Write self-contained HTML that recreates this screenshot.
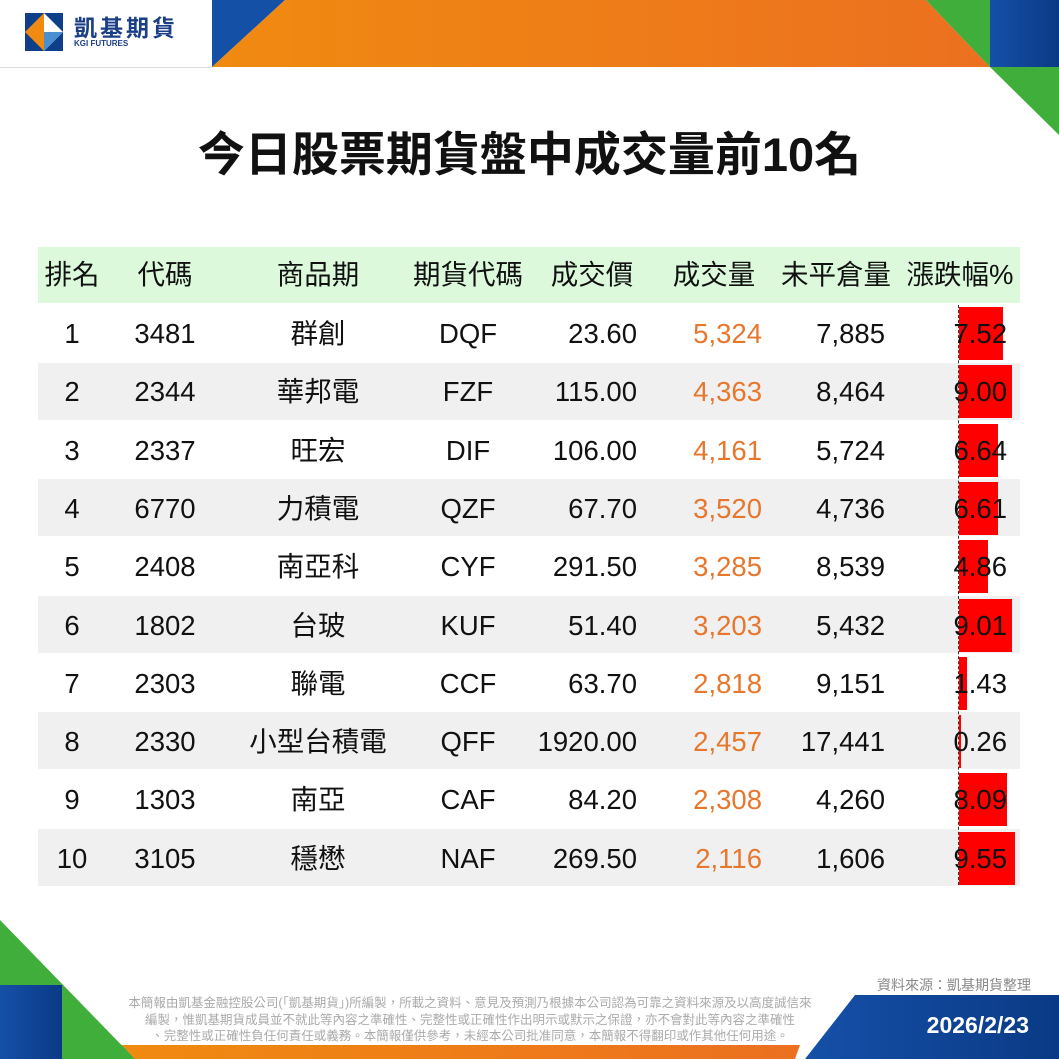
<!DOCTYPE html>
<html><head><meta charset="utf-8"><style>
body{margin:0;width:1059px;height:1059px;position:relative;overflow:hidden;background:#fff;font-family:"Liberation Sans","Noto Sans CJK TC",sans-serif;}
.a{position:absolute;}
.t{position:absolute;font-size:27.5px;color:#111;line-height:58px;white-space:nowrap;}
.c{transform:translateX(-50%);}
.r{transform:translateX(-100%);}
.o{color:#e8772e;}
</style></head><body>
<svg class="a" style="left:0;top:0" width="1059" height="1059">
<defs><linearGradient id="og" x1="0" x2="1"><stop offset="0" stop-color="#f08a10"/><stop offset="1" stop-color="#ec7020"/></linearGradient>
<linearGradient id="bg" x1="0" x2="1"><stop offset="0" stop-color="#1550a8"/><stop offset="1" stop-color="#0a3a85"/></linearGradient></defs>
<polygon points="212,0 285,0 212,67" fill="#1450a5"/>
<polygon points="285,0 926,0 990,67 212,67" fill="url(#og)"/>
<polygon points="926,0 990,0 990,67" fill="#3fae3a"/>
<rect x="990" y="0" width="69" height="67" fill="url(#bg)"/>
<polygon points="990,67 1059,67 1059,135" fill="#3fae3a"/>
<line x1="0" y1="67.5" x2="212" y2="67.5" stroke="#ddd" stroke-width="1"/>
<polygon points="25,13 63,13 63,51 25,51" fill="#0f3e8a"/>
<polygon points="25,32 44,13 44,51" fill="#f08a10"/>
<polygon points="44,13 63,32 44,51" fill="#fff"/>
<polygon points="44,32 63,32 44,51" fill="#4a90d0"/>
<polygon points="0,920 0,1059 135,1059" fill="#3fae3a"/>
<rect x="0" y="985" width="62" height="74" fill="url(#bg)"/>
<polygon points="62,1045 122,1045 135,1059 62,1059" fill="#3fae3a"/>
<polygon points="122,1045 800,1045 795,1059 135,1059" fill="url(#og)"/>
<polygon points="855,995 1059,995 1059,1059 805,1059" fill="url(#bg)"/>
</svg>
<div class="a" style="left:74px;top:9px;font-size:23px;color:#1a3f86;letter-spacing:3px;font-weight:bold">凱基期貨</div>
<div class="a" style="left:74px;top:39px;font-size:8px;color:#1a3f86;font-weight:bold">KGI FUTURES</div>
<div class="a" style="left:0;width:1059px;top:116px;text-align:center;font-size:47px;font-weight:bold;color:#111">今日股票期貨盤中成交量前10名</div>

<div class="a" style="left:38px;top:247px;width:982px;height:56px;background:#dcf9dc"></div>
<div class="a" style="left:38px;top:363px;width:982px;height:57px;background:#f0f0f0"></div>
<div class="a" style="left:38px;top:479px;width:982px;height:57px;background:#f0f0f0"></div>
<div class="a" style="left:38px;top:596px;width:982px;height:57px;background:#f0f0f0"></div>
<div class="a" style="left:38px;top:712px;width:982px;height:57px;background:#f0f0f0"></div>
<div class="a" style="left:38px;top:829px;width:982px;height:57px;background:#f0f0f0"></div>

<div class="t c" style="left:72px;top:246px">排名</div>
<div class="t c" style="left:165px;top:246px">代碼</div>
<div class="t c" style="left:318px;top:246px">商品期</div>
<div class="t c" style="left:468px;top:246px">期貨代碼</div>
<div class="t c" style="left:592px;top:246px">成交價</div>
<div class="t c" style="left:714px;top:246px">成交量</div>
<div class="t c" style="left:836px;top:246px">未平倉量</div>
<div class="t c" style="left:960px;top:246px">漲跌幅%</div>

<div class="a" style="left:958px;top:305px;width:0;height:580px;border-left:1px dashed #333"></div>

<div id="rows"></div>
<script>
var d=[["1","3481","群創","DQF","23.60","5,324","7,885","7.52"],["2","2344","華邦電","FZF","115.00","4,363","8,464","9.00"],["3","2337","旺宏","DIF","106.00","4,161","5,724","6.64"],["4","6770","力積電","QZF","67.70","3,520","4,736","6.61"],["5","2408","南亞科","CYF","291.50","3,285","8,539","4.86"],["6","1802","台玻","KUF","51.40","3,203","5,432","9.01"],["7","2303","聯電","CCF","63.70","2,818","9,151","1.43"],["8","2330","小型台積電","QFF","1920.00","2,457","17,441","0.26"],["9","1303","南亞","CAF","84.20","2,308","4,260","8.09"],["10","3105","穩懋","NAF","269.50","2,116","1,606","9.55"]];
var h="";
d.forEach(function(r,i){var y=305+i*58.3;
var w=parseFloat(r[7])*5.9;
h+='<div class="a" style="left:959px;top:'+(y+2)+'px;width:'+w+'px;height:53px;background:#ff0000"></div>';
h+='<div class="t c" style="left:72px;top:'+y+'px">'+r[0]+'</div>';
h+='<div class="t c" style="left:165px;top:'+y+'px">'+r[1]+'</div>';
h+='<div class="t c" style="left:318px;top:'+y+'px">'+r[2]+'</div>';
h+='<div class="t c" style="left:468px;top:'+y+'px">'+r[3]+'</div>';
h+='<div class="t r" style="left:637px;top:'+y+'px">'+r[4]+'</div>';
h+='<div class="t r o" style="left:762px;top:'+y+'px">'+r[5]+'</div>';
h+='<div class="t r" style="left:885px;top:'+y+'px">'+r[6]+'</div>';
h+='<div class="t r" style="left:1007px;top:'+y+'px">'+r[7]+'</div>';
});
document.getElementById("rows").innerHTML=h;
</script>
<div class="a" style="right:28px;top:975px;font-size:14px;color:#888">資料來源：凱基期貨整理</div>
<div class="a" style="left:80px;top:995px;width:780px;font-size:12.5px;color:#aaa;line-height:16.5px;text-align:center">本簡報由凱基金融控股公司(「凱基期貨」)所編製，所載之資料、意見及預測乃根據本公司認為可靠之資料來源及以高度誠信來<br>編製，惟凱基期貨成員並不就此等內容之準確性、完整性或正確性作出明示或默示之保證，亦不會對此等內容之準確性<br>、完整性或正確性負任何責任或義務。本簡報僅供參考，未經本公司批准同意，本簡報不得翻印或作其他任何用途。</div>
<div class="a" style="right:30px;top:1012px;font-size:23px;color:#fff;font-weight:bold">2026/2/23</div>
</body></html>
